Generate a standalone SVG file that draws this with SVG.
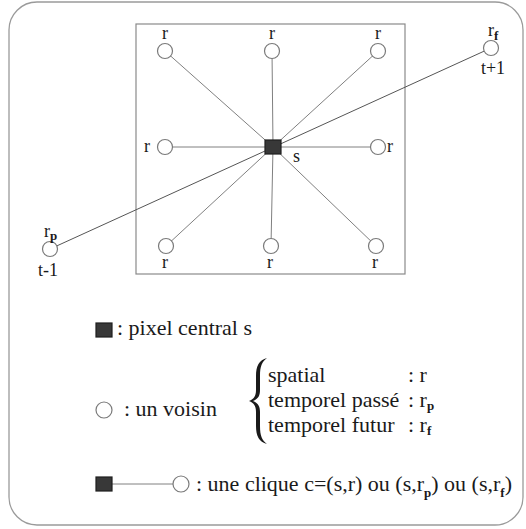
<svg xmlns="http://www.w3.org/2000/svg" width="526" height="529" viewBox="0 0 526 529" font-family="'Liberation Serif', Tinos, 'Times New Roman', Times, 'DejaVu Serif', serif">
<style>
  text { font-family: "Liberation Serif", Tinos, "Times New Roman", Times, "DejaVu Serif", serif; fill: #1a1a1a; }
  .lbl { font-size: 18px; }
  .leg { font-size: 22px; }
  .sub { font-size: 13px; font-weight: bold; }
  .nb { fill: #ffffff; stroke: #7a7a7a; stroke-width: 1.2; }
  .ctr { fill: #383838; stroke: #1e1e1e; stroke-width: 1.2; }
  .spoke { stroke: #808080; stroke-width: 1; }
  .long { stroke: #555555; stroke-width: 1; }
</style>
<rect width="526" height="529" fill="#ffffff"/>
<rect id="frame" x="9" y="2" width="514" height="523" rx="28" ry="28" fill="none" stroke="#9a9a9a" stroke-width="1.3"/>
<rect id="window" x="136" y="24" width="269" height="250" fill="none" stroke="#8a8a8a" stroke-width="1.2"/>

<g id="connectors">
  <line class="spoke" x1="273" y1="147" x2="165" y2="51"/>
  <line class="spoke" x1="273" y1="147" x2="272" y2="51"/>
  <line class="spoke" x1="273" y1="147" x2="378" y2="51"/>
  <line class="spoke" x1="273" y1="147" x2="165" y2="147"/>
  <line class="spoke" x1="273" y1="147" x2="378" y2="147"/>
  <line class="spoke" x1="273" y1="147" x2="166" y2="246"/>
  <line class="spoke" x1="273" y1="147" x2="271" y2="246"/>
  <line class="spoke" x1="273" y1="147" x2="376" y2="246"/>
  <line class="long" x1="50" y1="249" x2="491" y2="48"/>
</g>

<g id="n-top-left"><circle class="nb" cx="165" cy="51" r="7.5"/><text class="lbl" x="165" y="39" text-anchor="middle">r</text></g>
<g id="n-top"><circle class="nb" cx="272" cy="51" r="7.5"/><text class="lbl" x="272" y="39" text-anchor="middle">r</text></g>
<g id="n-top-right"><circle class="nb" cx="378" cy="51" r="7.5"/><text class="lbl" x="378" y="39" text-anchor="middle">r</text></g>
<g id="n-left"><circle class="nb" cx="165" cy="147" r="7.5"/><text class="lbl" x="150" y="152" text-anchor="end">r</text></g>
<g id="n-right"><circle class="nb" cx="378" cy="147" r="7.5"/><text class="lbl" x="387" y="152">r</text></g>
<g id="n-bottom-left"><circle class="nb" cx="166" cy="246" r="7.5"/><text class="lbl" x="165" y="268" text-anchor="middle">r</text></g>
<g id="n-bottom"><circle class="nb" cx="271" cy="246" r="7.5"/><text class="lbl" x="270" y="268" text-anchor="middle">r</text></g>
<g id="n-bottom-right"><circle class="nb" cx="376" cy="246" r="7.5"/><text class="lbl" x="375" y="268" text-anchor="middle">r</text></g>
<g id="n-center"><rect class="ctr" x="265" y="140" width="16" height="14"/><text class="lbl" x="293" y="162">s</text></g>
<g id="n-future"><circle class="nb" cx="491" cy="48" r="7.5"/><text class="lbl" x="488" y="36">r<tspan class="sub" dy="4">f</tspan></text><text class="lbl" x="493" y="74" text-anchor="middle">t+1</text></g>
<g id="n-past"><circle class="nb" cx="50" cy="249" r="7.5"/><text class="lbl" x="44" y="237">r<tspan class="sub" dy="3">p</tspan></text><text class="lbl" x="48" y="276" text-anchor="middle">t-1</text></g>

<g id="legend-pixel">
  <rect class="ctr" x="96" y="323" width="16" height="14"/>
  <text class="leg" x="117" y="335">: pixel central s</text>
</g>
<g id="legend-voisin">
  <circle class="nb" cx="104" cy="410" r="8"/>
  <text class="leg" x="124" y="416">: un voisin</text>
  <path d="M267,358 C259,360 256,366 256,376 L256,390 C256,396 254,399 249,401 C254,403 256,406 256,412 L256,426 C256,436 259,442 267,444 C262,440 260,436 260,426 L260,412 C260,406 258,403 253,401 C258,399 260,396 260,390 L260,376 C260,366 262,362 267,358 Z" fill="#1a1a1a"/>
  <text class="leg" x="268" y="382">spatial</text>
  <text class="leg" x="408" y="382">: r</text>
  <text class="leg" x="268" y="407">temporel passé</text>
  <text class="leg" x="408" y="407">: r<tspan class="sub" dy="3">p</tspan></text>
  <text class="leg" x="268" y="432">temporel futur</text>
  <text class="leg" x="408" y="432">: r<tspan class="sub" dy="3">f</tspan></text>
</g>
<g id="legend-clique">
  <line class="spoke" x1="112" y1="484" x2="181" y2="484"/>
  <rect class="ctr" x="96" y="477" width="16" height="14"/>
  <circle class="nb" cx="181" cy="484" r="8"/>
  <text class="leg" x="196" y="491">: une clique c=(s,r) ou (s,r<tspan class="sub" dy="6">p</tspan><tspan dy="-6">) ou (s,r</tspan><tspan class="sub" dy="6">f</tspan><tspan dy="-6">)</tspan></text>
</g>
</svg>
